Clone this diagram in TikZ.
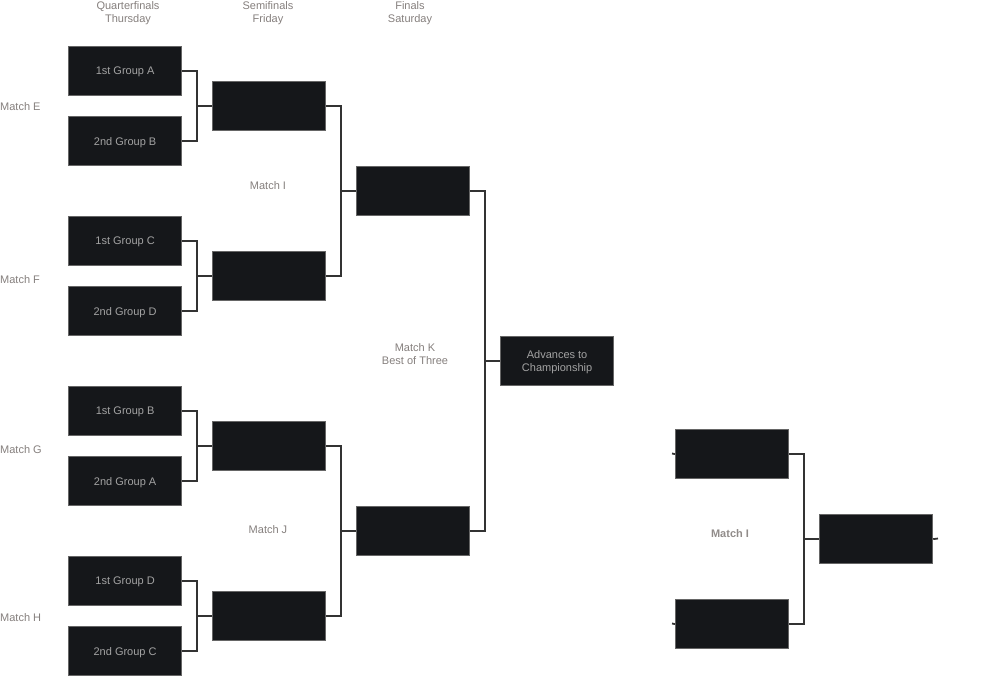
\documentclass[tikz,border=0pt]{standalone}
\usepackage{fontspec}
\setmainfont{Liberation Sans}
\begin{document}
\begin{tikzpicture}[x=1pt,y=-1pt,
  mbox/.style={draw=boxedge,fill=boxfill,line width=1.2pt,minimum width=113pt,minimum height=49pt,inner sep=0pt,text depth=0pt,text=boxtext,font=\fontsize{11}{13}\selectfont,align=center,anchor=north west},
  lbl/.style={text=lbltext,font=\fontsize{11}{12.5}\selectfont,align=center,inner sep=0pt,text depth=0pt},
  conn/.style={draw=linecol,line width=1.8pt}]
\definecolor{boxfill}{HTML}{15171A}
\definecolor{boxedge}{HTML}{666666}
\definecolor{boxtext}{HTML}{A3A3A3}
\definecolor{lbltext}{HTML}{857F7D}
\definecolor{linecol}{HTML}{333333}
\useasboundingbox (0,0) rectangle (982,676);
% headings
\node[lbl] (hq) at (128,12) {Quarterfinals\\Thursday};
\node[lbl] (hs) at (268,12) {Semifinals\\Friday};
\node[lbl] (hf) at (410,12) {Finals\\Saturday};
% quarterfinals
\node[mbox] (q1) at (68,46) {1st Group A};
\node[mbox] (q2) at (68,116) {2nd Group B};
\node[mbox] (q3) at (68,216) {1st Group C};
\node[mbox] (q4) at (68,286) {2nd Group D};
\node[mbox] (q5) at (68,386) {1st Group B};
\node[mbox] (q6) at (68,456) {2nd Group A};
\node[mbox] (q7) at (68,556) {1st Group D};
\node[mbox] (q8) at (68,626) {2nd Group C};
% semifinals
\node[mbox] (s1) at (212,81) {};
\node[mbox] (s2) at (212,251) {};
\node[mbox] (s3) at (212,421) {};
\node[mbox] (s4) at (212,591) {};
% finals
\node[mbox] (f1) at (356,166) {};
\node[mbox] (f2) at (356,506) {};
\node[mbox] (adv) at (500,336) {Advances to\\Championship};
% right group
\node[mbox] (r1) at (675,429) {};
\node[mbox] (r2) at (675,599) {};
\node[mbox] (r3) at (819,514) {};
% labels
\node[lbl,anchor=west] (me) at (0,106.5) {Match E};
\node[lbl,anchor=west] (mf) at (0,279.5) {Match F};
\node[lbl,anchor=west] (mg) at (0,449.5) {Match G};
\node[lbl,anchor=west] (mh) at (0,617.5) {Match H};
\node[lbl] (mi) at (268,185.5) {Match I};
\node[lbl] (mj) at (268,529.5) {Match J};
\node[lbl] (mk) at (415,354) {Match K\\Best of Three};
\node[lbl,font=\fontsize{11}{12.5}\selectfont\bfseries,text=lbltext!90] (mi2) at (730,533.5) {Match I};
% connectors
\foreach \a/\b/\c/\xx in {q1/q2/s1/197,q3/q4/s2/197,q5/q6/s3/197,q7/q8/s4/197,s1/s2/f1/341,s3/s4/f2/341,f1/f2/adv/485,r1/r2/r3/804}{
  \draw[conn] (\a.east) -| (\xx,0 |- \c.west) |- (\b.east);
  \draw[conn] (\xx,0 |- \c.west) -- (\c.west);
}
\coordinate (l1) at (672,453.5);
\coordinate (l2) at (672,623.5);
\coordinate (o3) at (938,538.5);
\draw[conn] (l1) -- (r1.west);
\draw[conn] (l2) -- (r2.west);
\draw[conn] (r3.east) -- (o3);
\end{tikzpicture}
\end{document}
